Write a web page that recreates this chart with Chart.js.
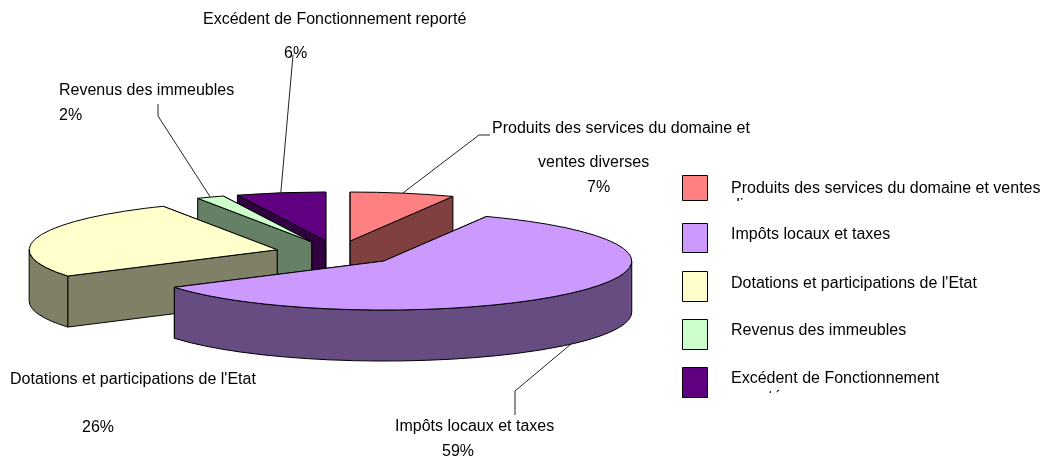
<!DOCTYPE html>
<html>
<head>
<meta charset="utf-8">
<script src="https://cdn.jsdelivr.net/npm/chart.js@4"></script>
<style>
	html, body { margin: 0; padding: 0; background: #fff; }
	canvas { display: block; }
</style>
</head>
<body>
<canvas id="chart" width="1052" height="463"></canvas>
<script>
const categories = [
	'Produits des services du domaine et ventes diverses',
	'Impôts locaux et taxes',
	"Dotations et participations de l'Etat",
	'Revenus des immeubles',
	'Excédent de Fonctionnement reporté'
];
const values = [6.8, 59.2, 26.4, 1.8, 5.8];
const topColors = ['#FF8080', '#CC99FF', '#FFFFCC', '#CCFFCC', '#600080'];
const sideColors = ['#804040', '#664C80', '#808066', '#668066', '#300040'];

// text of the data labels, percent line is built from values
const labelLines = [
	['Produits des services du domaine et', 'ventes diverses'],
	['Impôts locaux et taxes'],
	["Dotations et participations de l'Etat"],
	['Revenus des immeubles'],
	['Excédent de Fonctionnement reporté']
];
const legendLines = [
	['Produits des services du domaine et ventes', 'diverses'],
	['Impôts locaux et taxes'],
	["Dotations et participations de l'Etat"],
	['Revenus des immeubles'],
	['Excédent de Fonctionnement', 'reporté']
];

const FONT = '16px "Liberation Sans", Arial, sans-serif';
const SQUASH = 49 / 248;
const DEPTH = 51;

// layout only, no data in here
const labelPos = [
	{ lines: [[492, 133], [538, 167]], pct: [587, 192] },
	{ lines: [[395, 431]], pct: [442, 456] },
	{ lines: [[10, 384]], pct: [82, 432] },
	{ lines: [[59, 95]], pct: [59, 120] },
	{ lines: [[203, 24]], pct: [284, 58] }
];
const leaders = [
	[[479, 135], [490, 135]],
	[[515, 391], [515, 415]],
	null,
	[[158, 116], [158, 104]],
	[[293, 55]]
];
const legendPos = [
	{ y: 175, h: 25, text: 193, gap: 17, clip: 201 },
	{ y: 223, h: 29, text: 239, gap: 18, clip: 250 },
	{ y: 271, h: 30, text: 288, gap: 18, clip: 298 },
	{ y: 319, h: 30, text: 335, gap: 18, clip: 346 },
	{ y: 367, h: 30, text: 383, gap: 19, clip: 393 }
];

function percent(i) {
	const total = values.reduce((a, b) => a + b, 0);
	return Math.round(values[i] / total * 100) + '%';
}

const pie3d = {
	id: 'pie3d',
	// the arcs are computed by chart.js, only the painting is done here
	beforeDatasetsDraw(chart) {
		const ctx = chart.ctx;
		const arcs = chart.getDatasetMeta(0).data;
		const geo = arcs.map((arc, i) => {
			const mid = (arc.startAngle + arc.endAngle) / 2;
			const off = arc.options.offset / 4;
			return {
				i,
				mid,
				start: arc.startAngle,
				end: arc.endAngle,
				a: arc.outerRadius,
				b: arc.outerRadius * SQUASH,
				x: arc.x + Math.cos(mid) * off,
				y: arc.y + Math.sin(mid) * off * SQUASH
			};
		});
		ctx.save();
		ctx.lineWidth = 1;
		ctx.lineJoin = 'round';
		ctx.strokeStyle = '#000';

		const order = geo.slice().sort((p, q) => Math.sin(p.mid) - Math.sin(q.mid));
		order.forEach(g => {
			const rim = t => [g.x + g.a * Math.cos(t), g.y + g.b * Math.sin(t)];
			// radial walls, back one first
			const walls = [g.start, g.end].sort((p, q) => rim(p)[1] - rim(q)[1]);
			walls.forEach(t => {
				const r = rim(t);
				ctx.beginPath();
				ctx.moveTo(g.x, g.y);
				ctx.lineTo(r[0], r[1]);
				ctx.lineTo(r[0], r[1] + DEPTH);
				ctx.lineTo(g.x, g.y + DEPTH);
				ctx.closePath();
				ctx.fillStyle = sideColors[g.i];
				ctx.fill();
				ctx.stroke();
			});
			// outer wall, only the part facing us
			const f0 = Math.max(g.start, 0);
			const f1 = Math.min(g.end, Math.PI);
			if (f1 > f0) {
				ctx.beginPath();
				ctx.ellipse(g.x, g.y, g.a, g.b, 0, f0, f1);
				ctx.ellipse(g.x, g.y + DEPTH, g.a, g.b, 0, f1, f0, true);
				ctx.closePath();
				ctx.fillStyle = sideColors[g.i];
				ctx.fill();
				ctx.stroke();
			}
			// top face
			ctx.beginPath();
			ctx.moveTo(g.x, g.y);
			ctx.ellipse(g.x, g.y, g.a, g.b, 0, g.start, g.end);
			ctx.closePath();
			ctx.fillStyle = topColors[g.i];
			ctx.fill();
			ctx.stroke();
		});

		// leader lines start on the rim at the middle of the slice
		ctx.strokeStyle = '#222';
		geo.forEach(g => {
			const path = leaders[g.i];
			if (!path) return;
			const front = Math.sin(g.mid) > 0;
			ctx.beginPath();
			ctx.moveTo(g.x + g.a * Math.cos(g.mid), g.y + g.b * Math.sin(g.mid) + (front ? DEPTH : 0));
			path.forEach(p => ctx.lineTo(p[0], p[1]));
			ctx.stroke();
		});

		// data labels
		ctx.font = FONT;
		ctx.fontKerning = 'none';
		ctx.fillStyle = '#000';
		ctx.textBaseline = 'alphabetic';
		labelLines.forEach((lines, i) => {
			lines.forEach((line, n) => {
				ctx.fillText(line, labelPos[i].lines[n][0], labelPos[i].lines[n][1]);
			});
			ctx.fillText(percent(i), labelPos[i].pct[0], labelPos[i].pct[1]);
		});

		// legend, second lines get cut off by the row height like in the original
		categories.forEach((cat, i) => {
			const row = legendPos[i];
			ctx.fillStyle = topColors[i];
			ctx.fillRect(682.5, row.y + 0.5, 25, row.h);
			ctx.strokeStyle = '#000';
			ctx.strokeRect(682.5, row.y + 0.5, 25, row.h);
			ctx.save();
			ctx.beginPath();
			ctx.rect(725, row.y - 10, 327, row.clip - row.y + 10);
			ctx.clip();
			ctx.fillStyle = '#000';
			legendLines[i].forEach((line, n) => {
				ctx.fillText(line, 731, row.text + n * row.gap);
			});
			ctx.restore();
		});
		ctx.restore();
		return false;
	}
};

new Chart(document.getElementById('chart'), {
	type: 'pie',
	plugins: [pie3d],
	data: {
		labels: categories,
		datasets: [{
			data: values,
			backgroundColor: topColors,
			borderColor: '#000',
			borderWidth: 1,
			offset: 248,
			radius: 248
		}]
	},
	options: {
		responsive: false,
		animation: false,
		layout: { padding: { left: 0, right: 378, top: 43, bottom: 0 } },
		plugins: {
			legend: { display: false },
			tooltip: { enabled: false }
		}
	}
});
</script>
</body>
</html>
